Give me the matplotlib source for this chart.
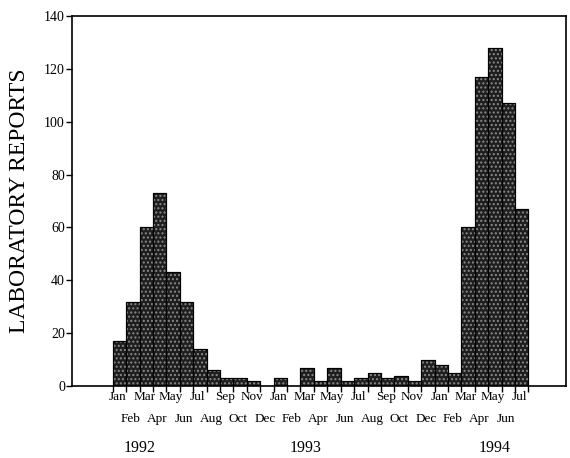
import numpy as np
import matplotlib
matplotlib.use('Agg')
import matplotlib.pyplot as plt

# monthly laboratory reports, Jan 1992 - Jul 1994
reports_1992 = [17, 32, 60, 73, 43, 32, 14, 6, 3, 3, 2, 0]
reports_1993 = [3, 0, 7, 2, 7, 2, 3, 5, 3, 4, 2, 10]
reports_1994 = [8, 5, 60, 117, 128, 107, 67]
month_names = ['Jan', 'Feb', 'Mar', 'Apr', 'May', 'Jun',
               'Jul', 'Aug', 'Sep', 'Oct', 'Nov', 'Dec']
years = ['1992', '1993', '1994']
y_ticks = [0, 20, 40, 60, 80, 100, 120, 140]

plt.rcParams['font.family'] = ['Liberation Serif', 'DejaVu Serif']
plt.rcParams['hatch.linewidth'] = 1.0

values = reports_1992 + reports_1993 + reports_1994
x = np.arange(len(values))
labels = [month_names[i % 12] for i in range(len(values))]

fig = plt.figure(figsize=(5.70, 4.58), dpi=100)
ax = fig.add_axes([0.126, 0.157, 0.867, 0.808])

# dark bars, then a dotted overlay to mimic the printed screen
ax.bar(x, values, width=1.0, color='#1e1e1e', edgecolor='black', linewidth=0.8)
ax.bar(x, values, width=1.0, color='none', edgecolor='#8a8a8a', hatch='....', linewidth=0)
ax.bar(x, values, width=1.0, color='none', edgecolor='black', linewidth=0.8)

ax.set_xlim(-3.55, 33.3)
ax.set_ylim(0, 140)
ax.set_yticks(y_ticks)
ax.tick_params(axis='y', direction='out', length=4, width=1, labelsize=10, pad=1)

# ticks on bar edges, month names in two staggered rows below
ax.set_xticks(np.arange(len(values) + 1) - 0.5)
ax.set_xticklabels([])
ax.tick_params(axis='x', which='major', direction='out', length=4, width=1)

trans = ax.get_xaxis_transform()
for i, lab in enumerate(labels):
    row_y = -0.03 if i % 2 == 0 else -0.088
    ax.text(x[i] - 0.15, row_y, lab, transform=trans, ha='center', va='center',
            fontsize=9.5)

for sp in ax.spines.values():
    sp.set_linewidth(1.2)

ax.set_ylabel('LABORATORY REPORTS', fontsize=17)
ax.yaxis.set_label_coords(-0.085, 0.5)

year_pos = [1.5, 13.85, 28.0]
for pos, yr in zip(year_pos, years):
    ax.text(pos, -0.168, yr, transform=trans, ha='center', va='center', fontsize=11.5)

fig.savefig('out.png', dpi=100)
